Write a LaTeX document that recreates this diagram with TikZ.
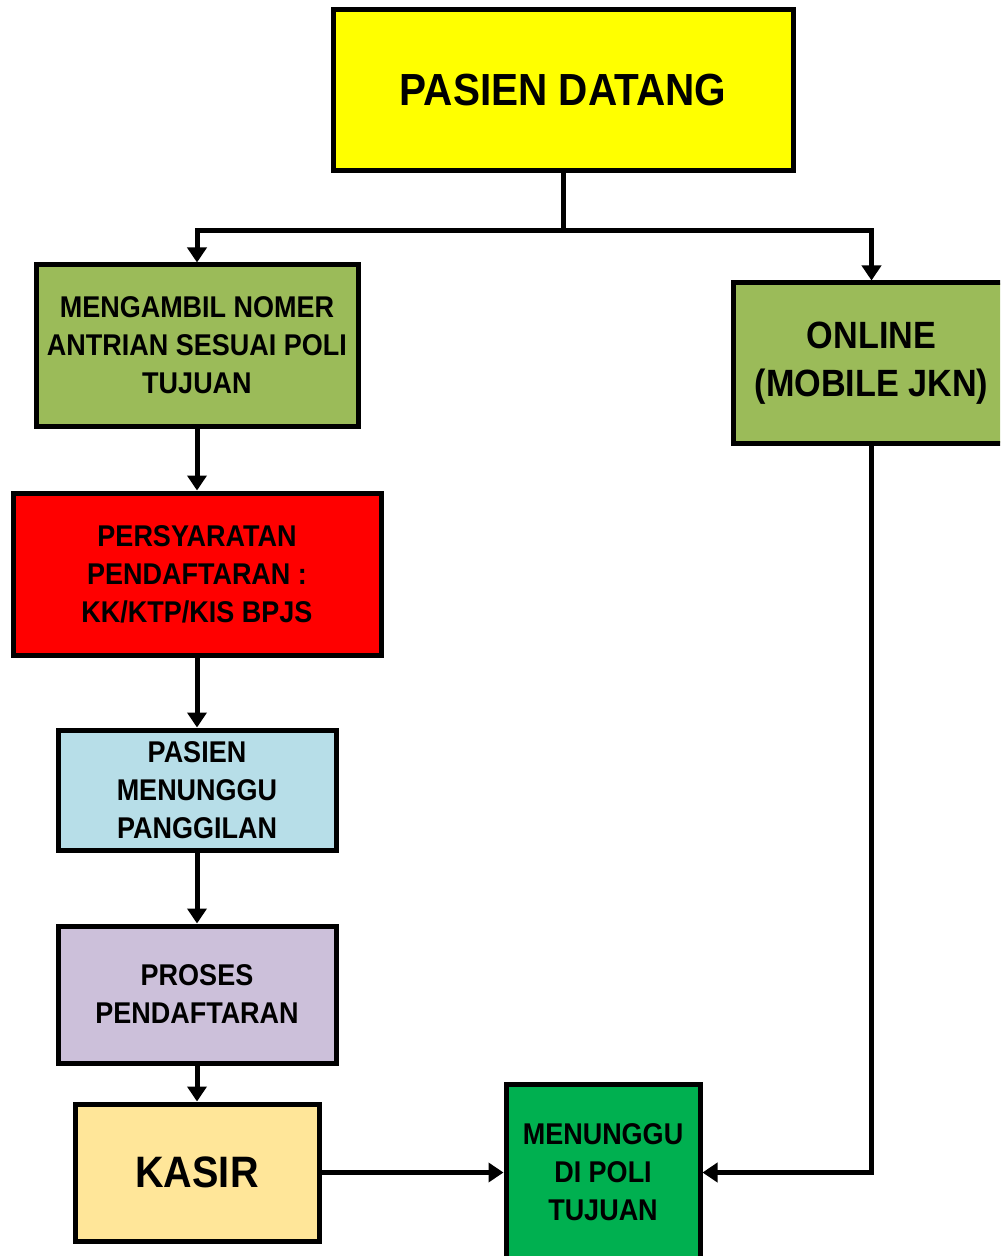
\documentclass[tikz,border=0pt]{standalone}
\usepackage{fontspec}
\setmainfont{Liberation Sans}[FakeStretch=0.9]
\usetikzlibrary{arrows.meta}
\definecolor{cyellow}{HTML}{FFFF00}
\definecolor{colive}{HTML}{9BBB59}
\definecolor{cred}{HTML}{FF0000}
\definecolor{cblue}{HTML}{B7DEE8}
\definecolor{clav}{HTML}{CCC0DA}
\definecolor{ckasir}{HTML}{FFE699}
\definecolor{cgreen}{HTML}{00B050}
\begin{document}
\begin{tikzpicture}[x=0.5pt,y=-0.5pt,
  box/.style={draw=black,line width=2.5pt,rectangle,inner sep=0pt,align=center,
    font=\bfseries\fontsize{15}{19}\selectfont},
  conn/.style={line width=2.5pt,-{Triangle[length=7.5pt,width=9.5pt]}},
  plainline/.style={line width=2.5pt}]
\useasboundingbox (0,0) rectangle (1000,1256);
\clip (0,0) rectangle (1000,1256);
\fill[white] (0,0) rectangle (1000,1256);

\node[box,fill=cyellow,minimum width=230pt,minimum height=80.5pt,
  font=\bfseries\fontsize{22.5}{26}\selectfont] (top) at (563,90.5) {PASIEN DATANG};
\node[box,fill=colive,minimum width=161pt,minimum height=80.5pt] (m1) at (197,345.5)
  {MENGAMBIL NOMER\\ANTRIAN SESUAI POLI\\TUJUAN};
\node[box,fill=colive,minimum width=138.5pt,minimum height=80pt,
  font=\bfseries\fontsize{19}{24}\selectfont] (online) at (871.5,363)
  {ONLINE\\(MOBILE JKN)};
\node[box,fill=cred,minimum width=184pt,minimum height=81pt] (persy) at (197,574)
  {PERSYARATAN\\PENDAFTARAN :\\KK/KTP/KIS BPJS};
\node[box,fill=cblue,minimum width=139pt,minimum height=60pt] (wait) at (197,790)
  {PASIEN\\MENUNGGU\\PANGGILAN};
\node[box,fill=clav,minimum width=139pt,minimum height=68.5pt] (proses) at (197,994.5)
  {PROSES\\PENDAFTARAN};
\node[box,fill=ckasir,minimum width=122pt,minimum height=68.5pt,
  font=\bfseries\fontsize{22}{26}\selectfont] (kasir) at (197,1172.5) {KASIR};
\node[box,fill=cgreen,minimum width=97pt,minimum height=88pt] (poli) at (603,1172.5)
  {MENUNGGU\\DI POLI\\TUJUAN};

\coordinate (br) at (563,231);
\draw[plainline] (top.south) -- (br);
\draw[conn] (br) -| (m1.north);
\draw[conn] (br) -| (online.north);
\draw[conn] (m1) -- (persy);
\draw[conn] (persy) -- (wait);
\draw[conn] (wait) -- (proses);
\draw[conn] (proses) -- (kasir);
\draw[conn] (kasir) -- (poli);
\draw[conn] (online.south) |- (poli.east);
\end{tikzpicture}
\end{document}
